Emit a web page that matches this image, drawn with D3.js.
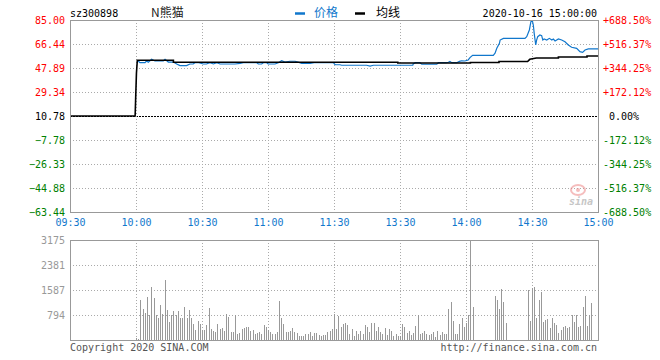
<!DOCTYPE html>
<html>
<head>
<meta charset="utf-8">
<script src="https://cdn.jsdelivr.net/npm/d3@7"></script>
<style>
body { margin: 0; background: #fff; }
text { font-family: "DejaVu Sans Mono", monospace; font-size: 10px; }
.cjk { font-family: "Noto Sans CJK SC", sans-serif; font-size: 12px; }
</style>
</head>
<body>
<svg id="chart" width="660" height="360"></svg>
<script>
// time axis (trading minutes since 09:30, lunch break removed)
const timeTicks = [0, 30, 60, 90, 120, 150, 180, 210, 240]
const timeLabels = ['09:30', '10:00', '10:30', '11:00', '11:30', '13:30', '14:00', '14:30', '15:00']

const priceTicks = [85.00, 66.44, 47.89, 29.34, 10.78, -7.78, -26.33, -44.88, -63.44]
const pctLabels = ['+688.50%', '+516.37%', '+344.25%', '+172.12%', ' 0.00%', '-172.12%', '-344.25%', '-516.37%', '-688.50%']
const prevClose = 10.78

const volTicks = [3175, 2381, 1587, 794]

// price line as [minute, price]
const pricePoints = [
  [31, 53.3], [31.8, 52.0], [34.1, 52.0], [34.8, 53.3], [35.6, 52.3], [37.1, 54.6], [38.6, 53.3], [42.4, 53.3],
  [43.2, 54.6], [44.7, 52.5], [47, 52.5], [48.5, 51.0], [50, 49.7], [53, 49.7], [54.5, 51.0], [56, 51.0],
  [56.8, 52.0], [58.5, 52.0], [60.6, 51.0], [62, 51.0], [63.6, 52.0], [65.2, 51.0], [66.7, 52.0], [68.2, 51.0],
  [75, 51.0], [77.3, 51.5], [78.8, 52.0], [84.9, 52.0], [85.6, 51.0], [87.1, 51.0], [87.9, 52.0], [89.4, 52.0],
  [90.1, 51.0], [93.2, 51.0], [94.7, 52.0], [96.2, 53.5], [97.7, 52.5], [100, 53.1], [102.3, 53.1], [104, 52.2],
  [105.3, 51.5], [109.1, 51.5], [111, 52.0], [119.7, 52.0], [120.5, 50.4], [122.7, 50.4], [123.5, 50.0], [134.8, 50.0],
  [136.4, 49.4], [137.9, 50.0], [155.8, 50.0], [156, 51.0], [157, 52.0], [159, 52.0], [159.9, 50.8], [166.7, 50.8],
  [167.5, 52.0], [171, 52.0], [172, 52.3], [172.7, 53.0], [173.5, 52.0], [175.8, 52.0], [177, 53.0], [178, 53.5],
  [179.5, 53.3], [181, 54.1], [181.8, 55.9], [183, 57.7], [192.4, 57.7], [193.2, 59.3], [194, 63.1], [195.2, 67.0],
  [195.5, 69.5], [197, 70.8], [206.8, 70.8], [207.6, 72.1], [208.8, 77.3], [209.5, 83.7], [210.2, 84.2], [210.6, 81.1],
  [211, 74.7], [211.7, 65.7], [212.1, 69.5], [212.6, 72.1], [213.6, 73.4], [214.4, 72.9], [214.9, 69.5], [215.5, 70.3],
  [216.7, 69.5], [217.9, 70.8], [219, 69.5], [219.7, 70.3], [220.5, 68.8], [222, 70.3], [223.5, 69.5], [225, 68.2],
  [226.5, 65.7], [228, 63.9], [230.3, 63.1], [231.8, 60.5], [233, 60.0], [234.1, 61.8], [235.6, 62.6], [240, 62.6]
]

// average price line
const avgPoints = [
  [0, 10.78], [29.6, 10.78], [29.8, 21.8], [30.2, 43.8], [30.6, 53.84], [47, 53.84], [47, 52.3], [149, 52.3],
  [149, 51.8], [182, 51.8], [182, 52.2], [195, 52.2], [195, 52.9], [208, 52.9], [209, 54.6], [212, 55.6],
  [222, 55.6], [222, 56.4], [235, 56.4], [235, 57.2], [240, 57.2]
]

// volume per minute starting at 10:00 (minute 30); zeros are trading halts
const volStart = 30
const volumes = [
  60, 40, 1270, 984, 868, 1376, 794, 1672, 1333, 794,
  688, 1111, 815, 1905, 952, 582, 794, 921, 794, 921,
  688, 688, 1048, 688, 952, 688, 508, 318, 614, 497,
  318, 318, 476, 1016, 338, 296, 265, 497, 338, 381,
  286, 826, 720, 243, 265, 783, 190, 212, 349, 392,
  413, 413, 296, 328, 190, 233, 265, 201, 466, 402,
  318, 265, 190, 190, 265, 1238, 698, 497, 254, 254,
  286, 370, 243, 212, 127, 127, 127, 190, 190, 254,
  127, 212, 212, 169, 127, 148, 169, 243, 296, 349,
  815, 349, 762, 402, 497, 529, 476, 190, 349, 127,
  286, 190, 286, 190, 476, 423, 254, 540, 540, 286,
  423, 254, 190, 381, 169, 349, 286, 127, 190, 127,
  127, 508, 423, 212, 296, 169, 212, 444, 783, 190,
  212, 286, 190, 169, 190, 265, 106, 296, 169, 243,
  190, 190, 984, 1206, 603, 190, 190, 497, 698, 423,
  529, 794, 3175, 1048, 0, 0, 0, 0, 0, 0,
  0, 0, 0, 1397, 1270, 984, 1609, 1217, 550, 0,
  0, 0, 0, 0, 0, 0, 0, 0, 1588, 614,
  1640, 1693, 709, 1270, 1535, 582, 646, 677, 392, 709,
  529, 476, 233, 318, 423, 444, 392, 423, 783, 582,
  783, 423, 444, 1048, 1397, 444, 783, 1185
]

const red = '#ff0000'
const green = '#008000'
const blue = '#1177cc'

const svg = d3.select('#chart')
const left = 70
const right = 598

const x = d3.scaleLinear().domain([0, 240]).range([left, right])
const y = d3.scaleLinear().domain([-63.44, 85]).range([212, 20])
const yv = d3.scaleLinear().domain([0, 3175]).range([340, 240])

const crisp = v => Math.round(v) + 0.5

// header
svg.append('text').attr('x', 70).attr('y', 13).attr('dy', '0.35em').text('sz300898')
svg.append('text').attr('class', 'cjk').attr('x', 151).attr('y', 13).attr('dy', '0.35em').attr('fill', '#222').text('N熊猫')
svg.append('line').attr('x1', 295).attr('x2', 305).attr('y1', 13.5).attr('y2', 13.5).attr('stroke', blue).attr('stroke-width', 2.5)
svg.append('text').attr('class', 'cjk').attr('x', 314).attr('y', 13).attr('dy', '0.35em').attr('fill', blue).text('价格')
svg.append('line').attr('x1', 355).attr('x2', 365).attr('y1', 13.5).attr('y2', 13.5).attr('stroke', '#000').attr('stroke-width', 2.5)
svg.append('text').attr('class', 'cjk').attr('x', 376).attr('y', 13).attr('dy', '0.35em').text('均线')
svg.append('text').attr('x', 597).attr('y', 13).attr('dy', '0.35em').attr('text-anchor', 'end').text('2020-10-16 15:00:00')

// price grid
const pg = svg.append('g')
pg.selectAll('.hg').data(priceTicks.slice(1, -1)).join('line')
  .attr('x1', left).attr('x2', right)
  .attr('y1', d => crisp(y(d))).attr('y2', d => crisp(y(d)))
  .attr('stroke', d => d === prevClose ? '#000' : '#aaa')
  .attr('stroke-dasharray', d => d === prevClose ? '2,1' : '1,2')
pg.selectAll('.vg').data(timeTicks.slice(1, -1)).join('line')
  .attr('x1', d => crisp(x(d))).attr('x2', d => crisp(x(d)))
  .attr('y1', 20).attr('y2', 212)
  .attr('stroke', '#aaa').attr('stroke-dasharray', '1,2')

// sina watermark
const wm = svg.append('g').attr('opacity', 0.55)
wm.append('ellipse').attr('cx', 578).attr('cy', 190).attr('rx', 7).attr('ry', 5).attr('fill', 'none').attr('stroke', '#e88').attr('stroke-width', 2)
wm.append('circle').attr('cx', 578).attr('cy', 190).attr('r', 2).attr('fill', '#e88')
wm.append('text').attr('x', 581).attr('y', 205).attr('text-anchor', 'middle')
  .attr('font-family', 'DejaVu Sans').attr('font-size', 15).attr('font-weight', 'bold').attr('font-style', 'italic')
  .attr('fill', '#999').text('sina')

// lines
const line = d3.line().x(d => x(d[0])).y(d => y(d[1]))
svg.append('path').datum(pricePoints).attr('d', line).attr('fill', 'none').attr('stroke', blue).attr('stroke-width', 1.2)
svg.append('path').datum(avgPoints).attr('d', line).attr('fill', 'none').attr('stroke', '#000').attr('stroke-width', 1.6)

svg.append('rect').attr('x', 70.5).attr('y', 20.5).attr('width', 528).attr('height', 192)
  .attr('fill', 'none').attr('stroke', '#999')

// price axes
const tickColor = d => d > prevClose ? red : d < prevClose ? green : '#000'
const yAxisL = d3.axisLeft(y).tickValues(priceTicks).tickSize(0).tickPadding(0).tickFormat(d3.format('.2f'))
const gl = svg.append('g').attr('transform', 'translate(65,0)').call(yAxisL)
gl.select('.domain').remove()
gl.selectAll('text').attr('fill', tickColor).attr('font-family', null).attr('font-size', null)

const yAxisR = d3.axisRight(y).tickValues(priceTicks).tickSize(0).tickPadding(0).tickFormat((d, i) => pctLabels[i])
const gr = svg.append('g').attr('transform', 'translate(603,0)').call(yAxisR)
gr.select('.domain').remove()
gr.selectAll('text').attr('fill', tickColor).attr('font-family', null).attr('font-size', null).style('white-space', 'pre')

const xAxis = d3.axisBottom(x).tickValues(timeTicks).tickSize(0).tickPadding(0).tickFormat((d, i) => timeLabels[i])
const gx = svg.append('g').attr('transform', 'translate(0,219)').call(xAxis)
gx.select('.domain').remove()
gx.selectAll('text').attr('fill', blue).attr('font-family', null).attr('font-size', null)

// volume grid
const vg = svg.append('g')
vg.selectAll('.hg').data(volTicks.slice(1)).join('line')
  .attr('x1', left).attr('x2', right)
  .attr('y1', d => crisp(yv(d))).attr('y2', d => crisp(yv(d)))
  .attr('stroke', '#aaa').attr('stroke-dasharray', '1,2')
vg.selectAll('.vg').data(timeTicks.slice(1, -1)).join('line')
  .attr('x1', d => crisp(x(d))).attr('x2', d => crisp(x(d)))
  .attr('y1', 240).attr('y2', 340)
  .attr('stroke', '#aaa').attr('stroke-dasharray', '1,2')

// volume bars
svg.append('g').selectAll('rect').data(volumes.map((v, i) => [volStart + i, v]).filter(d => d[1] > 0)).join('rect')
  .attr('x', d => Math.round(x(d[0])))
  .attr('width', 1)
  .attr('y', d => Math.round(yv(d[1])))
  .attr('height', d => 340 - Math.round(yv(d[1])))
  .attr('fill', '#999')

svg.append('rect').attr('x', 70.5).attr('y', 240.5).attr('width', 528).attr('height', 100)
  .attr('fill', 'none').attr('stroke', '#999')

const yAxisV = d3.axisLeft(yv).tickValues(volTicks).tickSize(0).tickPadding(0).tickFormat(d3.format('d'))
const gv = svg.append('g').attr('transform', 'translate(65,0)').call(yAxisV)
gv.select('.domain').remove()
gv.selectAll('text').attr('fill', '#999').attr('font-family', null).attr('font-size', null)

// footer
svg.append('text').attr('x', 70).attr('y', 347).attr('dy', '0.35em').attr('fill', '#555').text('Copyright 2020 SINA.COM')
svg.append('text').attr('x', 597).attr('y', 347).attr('dy', '0.35em').attr('text-anchor', 'end').attr('fill', '#555').text('http://finance.sina.com.cn')
</script>
</body>
</html>
